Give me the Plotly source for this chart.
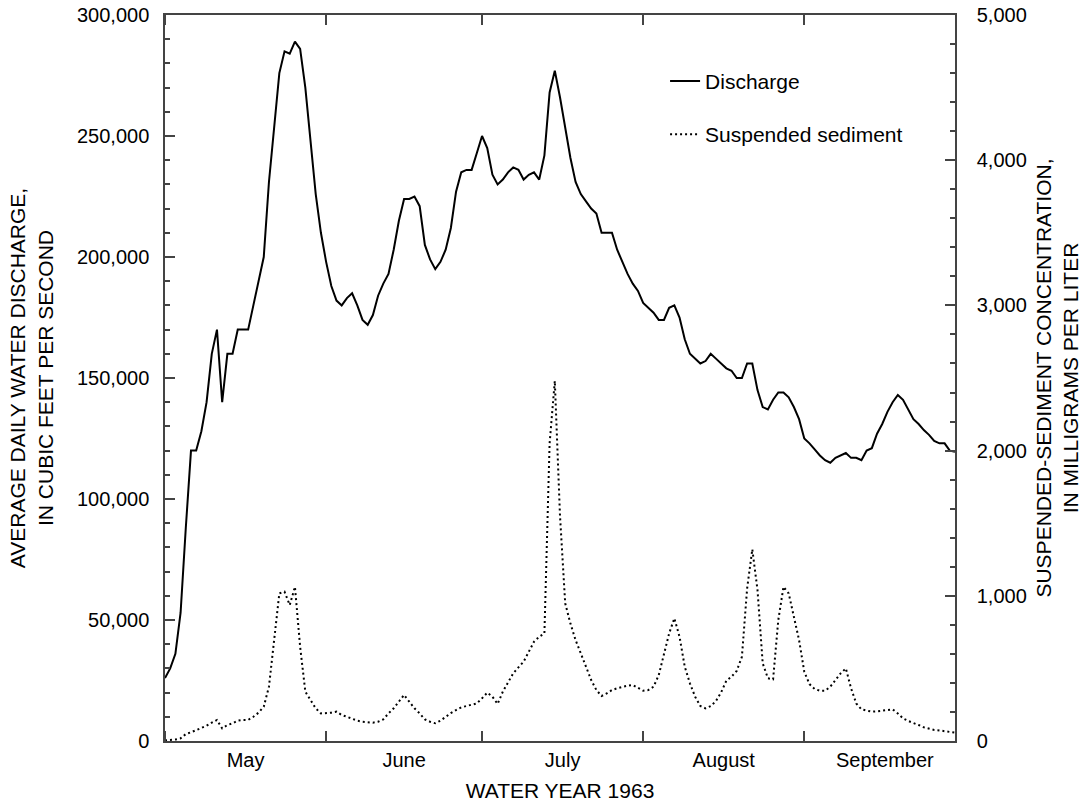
import pandas as pd
import plotly.graph_objects as go

# Daily values, 1 May 1963 - 30 Sep 1963 (water year 1963)
start_date = "1963-05-01"
end_date = "1963-09-30"

discharge_cfs = [
    26000, 30000, 36000, 53000, 88000, 120000, 120000, 128000, 140000, 160000,
    170000, 140000, 160000, 160000, 170000, 170000, 170000, 180000, 190000, 200000,
    231000, 254000, 276000, 285000, 284000, 289000, 286000, 270000, 248000, 226000,
    210000, 198000, 188000, 182000, 180000, 183000, 185000, 180000, 174000, 172000,
    176000, 184000, 189000, 193000, 203000, 215000, 224000, 224000, 225000, 221000,
    205000, 199000, 195000, 198000, 203000, 212000, 227000, 235000, 236000, 236000,
    243000, 250000, 245000, 234000, 230000, 232000, 235000, 237000, 236000, 232000,
    234000, 235000, 232000, 242000, 268000, 277000, 266000, 254000, 241000, 231000,
    226000, 223000, 220000, 218000, 210000, 210000, 210000, 203000, 198000, 193000,
    189000, 186000, 181000, 179000, 177000, 174000, 174000, 179000, 180000, 175000,
    166000, 160000, 158000, 156000, 157000, 160000, 158000, 156000, 154000, 153000,
    150000, 150000, 156000, 156000, 145000, 138000, 137000, 141000, 144000, 144000,
    142000, 138000, 133000, 125000, 123000, 120500, 118000, 116000, 115000, 117000,
    118000, 119000, 117000, 117000, 116000, 120000, 121000, 127000, 131000, 136000,
    140000, 143000, 141000, 137000, 133000, 131000, 128500, 126500, 124000, 123000,
    123000, 120000, 119500,
]

sediment_mg_l = [
    5, 5, 10, 18, 48, 60, 76, 87, 105, 126,
    145, 87, 110, 122, 140, 145, 145, 167, 195, 236,
    374, 695, 1017, 1028, 936, 1062, 649, 340, 282, 225,
    190, 190, 195, 202, 179, 167, 151, 140, 133, 129,
    126, 133, 149, 190, 225, 271, 317, 271, 225, 190,
    149, 133, 122, 140, 167, 192, 213, 232, 241, 248,
    259, 294, 333, 305, 255, 340, 408, 466, 507, 546,
    615, 684, 718, 741, 2050, 2480, 1550, 948, 810, 695,
    604, 512, 420, 351, 310, 328, 351, 363, 374, 381,
    386, 363, 346, 351, 374, 454, 592, 741, 845, 718,
    512, 397, 305, 241, 225, 240, 275, 335, 415, 443,
    483, 580, 1050, 1320, 1040, 535, 432, 425, 833, 1062,
    1017, 867, 695, 477, 392, 358, 346, 346, 374, 420,
    466, 500, 363, 259, 218, 209, 202, 204, 209, 213,
    218, 190, 156, 138, 126, 110, 94, 85, 76, 73,
    69, 64, 57,
]

dates = pd.date_range(start_date, periods=len(discharge_cfs), freq="D")

FONT = "Liberation Sans, Arial, Helvetica, sans-serif"
AXIS_COLOR = "#444444"

fig = go.Figure()
fig.add_trace(go.Scatter(
    x=dates, y=discharge_cfs, name="Discharge", mode="lines",
    line=dict(color="black", width=2), legendgroup="q",
))
fig.add_trace(go.Scatter(
    x=dates, y=sediment_mg_l, name="Suspended sediment", mode="lines",
    line=dict(color="black", width=2, dash="2px,3px"), yaxis="y2", legendgroup="s",
))

fig.update_layout(
    width=1082, height=802,
    margin=dict(l=165, r=127, t=15, b=61, autoexpand=False),
    paper_bgcolor="white", plot_bgcolor="white",
    font=dict(family=FONT, size=20, color="black"),
    showlegend=True,
    legend=dict(
        x=0.633, y=0.937, xanchor="left", yanchor="top",
        bgcolor="rgba(0,0,0,0)", font=dict(size=21),
        traceorder="grouped", tracegroupgap=23,
    ),
    xaxis=dict(
        type="date", range=[start_date, end_date], automargin=False,
        tick0=start_date, dtick="M1", ticklabelmode="period", tickformat="%B",
        ticks="inside", ticklen=10, tickwidth=1.5, tickcolor=AXIS_COLOR,
        showline=True, linecolor=AXIS_COLOR, linewidth=1.5, mirror="ticks",
        showgrid=False, zeroline=False, ticklabelstandoff=0,
        title=dict(text="WATER YEAR 1963", font=dict(size=21), standoff=22),
    ),
    yaxis=dict(
        range=[0, 300000], dtick=50000, tickformat=",d", automargin=False,
        ticks="inside", ticklen=10, tickwidth=1.5, tickcolor=AXIS_COLOR,
        minor=dict(dtick=10000, ticks="inside", ticklen=5, tickwidth=1.5, tickcolor=AXIS_COLOR),
        showline=True, linecolor=AXIS_COLOR, linewidth=1.5,
        showgrid=False, zeroline=False, ticklabelstandoff=10,
        title=dict(text="AVERAGE DAILY WATER DISCHARGE,<br>IN CUBIC FEET PER SECOND",
                   font=dict(size=21), standoff=18),
    ),
    yaxis2=dict(
        overlaying="y", side="right", automargin=False,
        range=[0, 5000], dtick=1000, tickformat=",d",
        ticks="inside", ticklen=10, tickwidth=1.5, tickcolor=AXIS_COLOR,
        minor=dict(dtick=200, ticks="inside", ticklen=5, tickwidth=1.5, tickcolor=AXIS_COLOR),
        showline=True, linecolor=AXIS_COLOR, linewidth=1.5,
        showgrid=False, zeroline=False, ticklabelstandoff=16,
        title=dict(text="SUSPENDED-SEDIMENT CONCENTRATION,<br>IN MILLIGRAMS PER LITER",
                   font=dict(size=21), standoff=10),
    ),
)

fig.write_html("out.html")
